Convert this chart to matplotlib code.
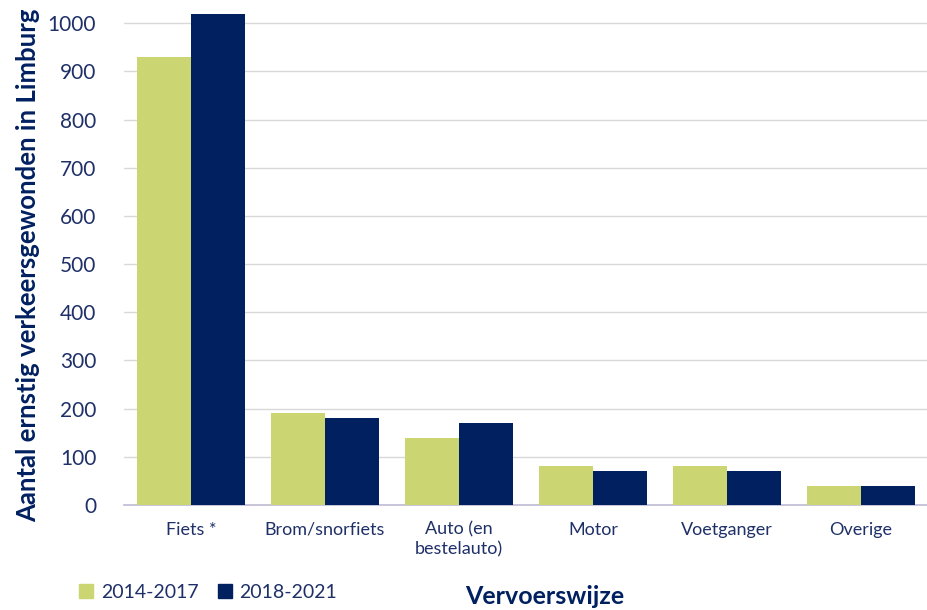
import numpy as np
import matplotlib
matplotlib.use("Agg")
import matplotlib.pyplot as plt
from matplotlib.patches import Patch

plt.rcParams['font.family'] = ['Lato', 'DejaVu Sans']

categories = ['Fiets *', 'Brom/snorfiets', 'Auto (en\nbestelauto)', 'Motor', 'Voetganger', 'Overige']
series_names = ['2014-2017', '2018-2021']
vals_2014_2017 = [930, 190, 140, 80, 80, 40]
vals_2018_2021 = [1020, 180, 170, 70, 70, 40]

green = '#CBD672'
navy = '#002060'
text_col = '#1F3068'

fig = plt.figure(figsize=(9.28, 6.10), dpi=100)
ax = fig.add_axes([124 / 928, 1 - 505 / 610, 804 / 928, 501 / 610])

x = np.arange(len(categories))
w = 0.4
ax.bar(x - w / 2, vals_2014_2017, w, color=green, zorder=3)
ax.bar(x + w / 2, vals_2018_2021, w, color=navy, zorder=3)

ax.set_xlim(-0.5, len(categories) - 0.5)
ax.set_ylim(0, 1040)
ax.set_yticks(range(0, 1001, 100))
ax.yaxis.grid(True, color='#D9D9D9', linewidth=1, zorder=0)
ax.set_xticks(x)
ax.set_xticklabels(categories, fontsize=13, color=text_col, linespacing=1.3)
ax.tick_params(axis='y', labelsize=15, labelcolor=text_col, length=0, pad=20)
ax.tick_params(axis='x', length=0, pad=12)

for s in ['top', 'right', 'left']:
    ax.spines[s].set_visible(False)
ax.spines['bottom'].set_color('#BFBBD6')
ax.spines['bottom'].set_linewidth(1.2)

fig.text(28 / 928, 1 - 265 / 610, 'Aantal ernstig verkeersgewonden in Limburg',
         rotation=90, ha='center', va='center', fontsize=18.5, fontweight='bold', color=navy)
fig.text(545 / 928, 1 - 596 / 610, 'Vervoerswijze', ha='center', va='center',
         fontsize=18, fontweight='bold', color=navy)

handles = [Patch(color=green), Patch(color=navy)]
fig.legend(handles, series_names, loc='center left', bbox_to_anchor=(62 / 928, 1 - 592 / 610),
           ncol=2, frameon=False, fontsize=14, handlelength=0.7, handleheight=0.7,
           handletextpad=0.4, columnspacing=1.0, labelcolor=text_col)

fig.savefig('out.png', dpi=100)
